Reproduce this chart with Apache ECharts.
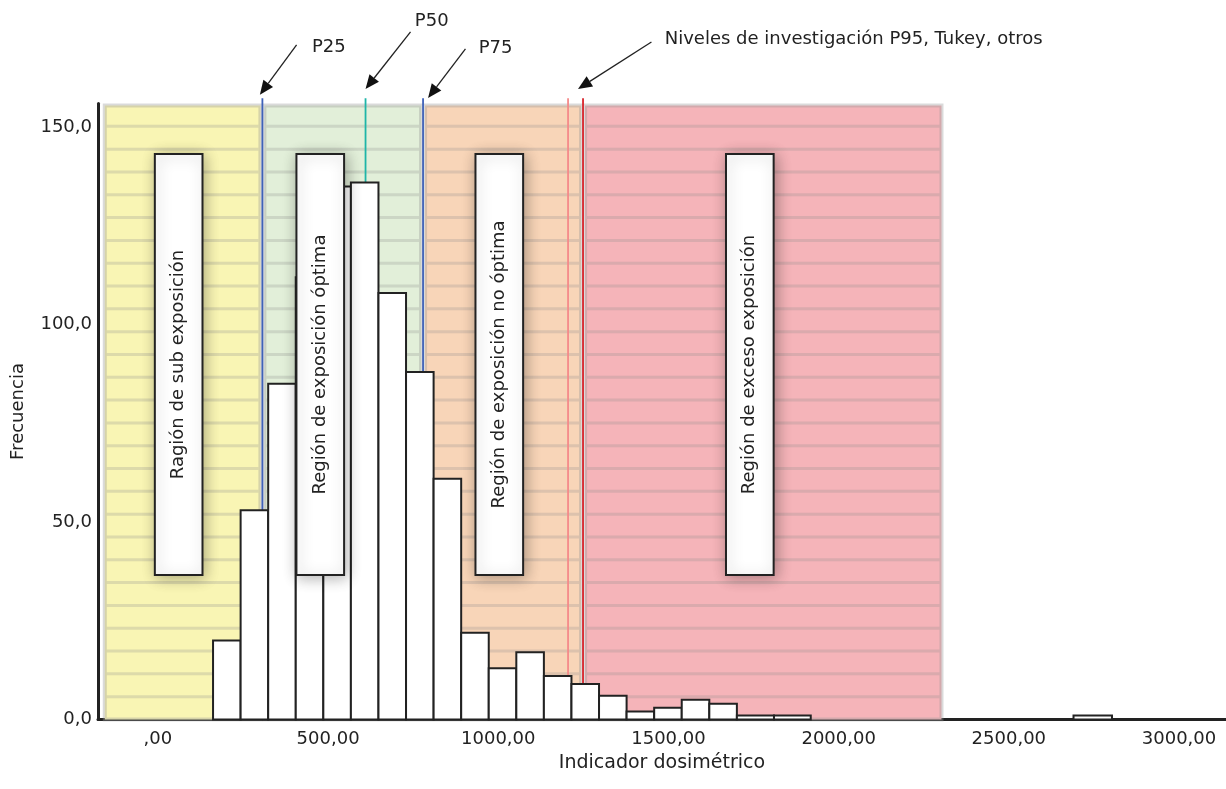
<!DOCTYPE html>
<html><head><meta charset="utf-8">
<script src="https://cdn.jsdelivr.net/npm/echarts@6/dist/echarts.min.js"></script>
<style>html,body{margin:0;padding:0;background:#fff;}#c{width:1226px;height:789px;}</style>
</head><body><div id="c"></div>
<script>
// ---------- data ----------
const binStart  = [162,243,324,405,486,567,648,729,810,891,972,1053,1134,1215,1296,1377,1458,1539,1620,1701,1810,2690];
const binEnd    = [243,324,405,486,567,648,729,810,891,972,1053,1134,1215,1296,1377,1458,1539,1620,1701,1810,1918,2803];
const frequency = [20,53,85,112,135,136,108,88,61,22,13,17,11,9,6,2,3,5,4,1,1,1];
const regionNames = ['Ragión de sub exposición','Región de exposición óptima','Región de exposición no óptima','Región de exceso exposición'];
const regionFrom  = [-162,307,779,1249];
const regionTo    = [307,779,1249,2308];
const markerNames  = ['P25','P50','P75','Nivel 1','Nivel 2'];
const markerValues = [307,610,779,1205,1249];
const xTicks = [0,500,1000,1500,2000,2500,3000];
const yTicks = [0,50,100,150];

// ---------- styles / layout ----------
const FONT = 'DejaVu Sans';
const X_MIN = -176, X_MAX = 3138, Y_MAX = 156;
const STRIPES = 27;
const regionColors = ['#f9f5b4','#e2efd9','#f8d5b8','#f5b4b9'];
const markerColors = ['#3f62b8','#1fb5a8','#3f62b8','#f58a8a','#d8232a'];
const LINE_TOP = 157.3;
const boxCfg = { centers:[61,477,1003,1739], half:70, top:143.2, bottom:36.6 };
const annotations = [
  {marker:0, text:'P25', tip:[-2.5,-3.7], tail:[36.7,-49.7], label:[52,-47.3]},
  {marker:1, text:'P50', tip:[0,-9.4], tail:[45,-57], label:[49.3,-67.3]},
  {marker:2, text:'P75', tip:[5,-0.4], tail:[37.4,-49], label:[50.7,-49.3]},
  {marker:4, text:'Niveles de investigación P95, Tukey, otros', tip:[-5,-9.4], tail:[73.4,-47], label:[86.7,-49.3]}
];

const bars = binStart.map((s,i)=>[s, binEnd[i], frequency[i]]);
const regions = regionFrom.map((f,i)=>[f, regionTo[i], i]);

const chart = echarts.init(document.getElementById('c'), null, {renderer:'canvas'});
const option = {
  animation:false,
  backgroundColor:'#fff',
  grid:{left:98, right:0, top:103.5, bottom:69.5, containLabel:false},
  xAxis:{
    type:'value', min:X_MIN, max:X_MAX,
    name:'Indicador dosimétrico', nameLocation:'middle', nameGap:26,
    nameTextStyle:{fontFamily:FONT, fontSize:19, color:'#222'},
    axisLine:{show:true, onZero:false, lineStyle:{color:'#222', width:3}},
    axisTick:{show:false},
    splitLine:{show:false},
    axisLabel:{customValues:xTicks, margin:11, fontFamily:FONT, fontSize:18, color:'#222',
      formatter:v=> v===0 ? ',00' : v.toFixed(2).replace('.',',')}
  },
  yAxis:{
    type:'value', min:0, max:Y_MAX,
    name:'Frecuencia', nameLocation:'middle', nameGap:71, nameRotate:90,
    nameTextStyle:{fontFamily:FONT, fontSize:18, color:'#222'},
    axisLine:{show:true, onZero:false, lineStyle:{color:'#222', width:3}},
    axisTick:{show:false},
    splitLine:{show:false},
    axisLabel:{customValues:yTicks, margin:6, fontFamily:FONT, fontSize:18, color:'#222',
      formatter:v=> v.toFixed(1).replace('.',',')}
  },
  series:[
    { // region backgrounds
      type:'custom', z:1, silent:true, data:regions, encode:{x:[0,1]},
      renderItem:(params, api)=>{
        const i = api.value(2);
        const tl = api.coord([api.value(0), Y_MAX]);
        const br = api.coord([api.value(1), 0]);
        const ch = [{type:'rect', shape:{x:tl[0]+2, y:tl[1]+2, width:br[0]-tl[0]-4, height:br[1]-tl[1]-2},
          style:{fill:regionColors[i], stroke:'rgba(150,150,150,0.35)', lineWidth:4}}];
        for(let k=1;k<STRIPES;k++){
          const y = api.coord([0, k*Y_MAX/STRIPES])[1];
          ch.push({type:'line', shape:{x1:tl[0]+4, y1:y, x2:br[0]-4, y2:y},
            style:{stroke:'rgba(140,140,140,0.25)', lineWidth:3}});
        }
        return {type:'group', children:ch};
      }
    },
    { // percentile / investigation lines
      type:'custom', z:2, silent:true, clip:false, data:markerValues.map(v=>[v]), encode:{x:0},
      renderItem:(params, api)=>{
        const i = params.dataIndex;
        const a = api.coord([api.value(0), 0]);
        const b = api.coord([api.value(0), LINE_TOP]);
        return {type:'line', shape:{x1:a[0], y1:a[1], x2:b[0], y2:b[1]},
          style:{stroke:markerColors[i], lineWidth:1.8}};
      }
    },
    { // histogram bars
      type:'custom', z:3, data:bars, encode:{x:[0,1], y:2},
      renderItem:(params, api)=>{
        const p0 = api.coord([api.value(0), api.value(2)]);
        const p1 = api.coord([api.value(1), 0]);
        return {type:'rect', shape:{x:p0[0], y:p0[1], width:p1[0]-p0[0], height:p1[1]-p0[1]},
          style:{fill:'#fff', stroke:'#222', lineWidth:2}};
      }
    },
    { // region label boxes
      type:'custom', z:4, silent:true, data:regionNames.map((n,i)=>[boxCfg.centers[i]]), encode:{x:0},
      renderItem:(params, api)=>{
        const c = api.value(0);
        const tl = api.coord([c-boxCfg.half, boxCfg.top]);
        const br = api.coord([c+boxCfg.half, boxCfg.bottom]);
        const cx = (tl[0]+br[0])/2, cy = (tl[1]+br[1])/2;
        return {type:'group', children:[
          {type:'rect', shape:{x:tl[0], y:tl[1], width:br[0]-tl[0], height:br[1]-tl[1]},
            style:{fill:'#fff', stroke:'#222', lineWidth:2, shadowBlur:14, shadowColor:'rgba(0,0,0,0.3)', shadowOffsetX:2, shadowOffsetY:2}},
          {type:'text', x:cx, y:cy, rotation:Math.PI/2,
            style:{text:regionNames[params.dataIndex], fill:'#222', fontFamily:FONT, fontSize:18, align:'center', verticalAlign:'middle'}}
        ]};
      }
    },
    { // arrows and annotation labels
      type:'custom', z:5, silent:true, clip:false, data:annotations.map(a=>[markerValues[a.marker]]), encode:{x:0},
      renderItem:(params, api)=>{
        const an = annotations[params.dataIndex];
        const top = api.coord([api.value(0), LINE_TOP]);
        const tip = [top[0]+an.tip[0], top[1]+an.tip[1]];
        const tail = [tip[0]+an.tail[0], tip[1]+an.tail[1]];
        const len = Math.hypot(an.tail[0], an.tail[1]);
        const ux = an.tail[0]/len, uy = an.tail[1]/len;
        const hl = 14, hw = 6;
        const base = [tip[0]+ux*hl, tip[1]+uy*hl];
        const p1 = [base[0]-uy*hw, base[1]+ux*hw];
        const p2 = [base[0]+uy*hw, base[1]-ux*hw];
        return {type:'group', children:[
          {type:'line', shape:{x1:base[0], y1:base[1], x2:tail[0], y2:tail[1]}, style:{stroke:'#222', lineWidth:1.3}},
          {type:'polygon', shape:{points:[tip,p1,p2]}, style:{fill:'#111'}},
          {type:'text', x:tip[0]+an.label[0], y:tip[1]+an.label[1],
            style:{text:an.text, fill:'#222', fontFamily:FONT, fontSize:18, align:'left', verticalAlign:'middle'}}
        ]};
      }
    }
  ]
};
chart.setOption(option);
</script>
</body></html>
